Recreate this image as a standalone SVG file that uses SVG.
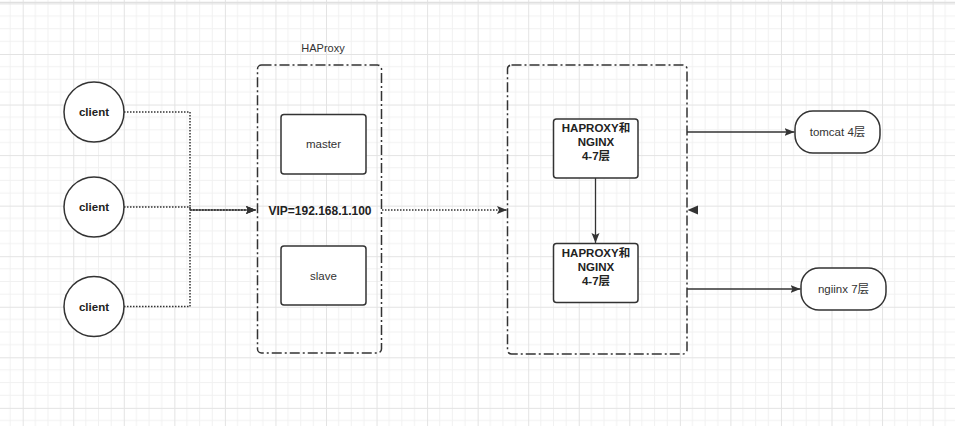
<svg xmlns="http://www.w3.org/2000/svg" width="955" height="426" viewBox="0 0 955 426">
<defs>
<pattern id="grid" patternUnits="userSpaceOnUse" x="22.7" y="3.45" width="50.55" height="50.55">
<path d="M12.64 0V50.55M25.28 0V50.55M37.91 0V50.55M0 12.64H50.55M0 25.28H50.55M0 37.91H50.55" stroke="#f1f1f1" stroke-width="1" fill="none"/>
<path d="M0.5 0V50.55M0 0.5H50.55" stroke="#e3e3e3" stroke-width="1" fill="none"/>
</pattern>
<marker id="arr" markerUnits="userSpaceOnUse" markerWidth="11" markerHeight="9" refX="10" refY="4" orient="auto">
<path d="M0,0 L10,4 L0,8 L2,4 Z" fill="#333"/>
</marker>
<style>
.box{fill:#fff;stroke:#333;stroke-width:1.5}
.grp{fill:none;stroke:#333;stroke-width:1.5;stroke-dasharray:10 3 2 3}
.dot{fill:none;stroke:#333;stroke-width:1.5;stroke-dasharray:1.5 1.5}
.ln{fill:none;stroke:#333;stroke-width:1.3}
text{font-family:"Liberation Sans","Noto Sans CJK SC",Arial,sans-serif;font-size:11px;fill:#333;text-anchor:middle}
.b{font-weight:bold;fill:#222}
.t{font-size:11.5px}
</style>
</defs>
<rect width="955" height="426" fill="#fff"/>
<rect width="955" height="426" fill="url(#grid)"/>
<line x1="0" y1="2.5" x2="955" y2="2.5" stroke="#e0e0e0" stroke-width="1.5"/>

<g id="haproxy-group">
<rect class="grp" x="257.5" y="65" width="124" height="288" rx="4"/>
<text x="323" y="52">HAProxy</text>
<text class="b" x="320" y="214.5" style="font-size:12px">VIP=192.168.1.100</text>
</g>
<g id="master"><rect class="box" x="281" y="114.5" width="85" height="59.5" rx="3"/><text class="t" x="323.5" y="148">master</text></g>
<g id="slave"><rect class="box" x="281" y="246" width="85" height="59" rx="3"/><text class="t" x="323.5" y="279.5">slave</text></g>

<g id="lb-group"><rect class="grp" x="507.5" y="65" width="179.5" height="289" rx="4"/></g>
<g id="lb1"><rect class="box" x="553.5" y="119" width="84.5" height="59" rx="3"/>
<text class="b t" x="596" y="132">HAPROXY和</text><text class="b t" x="596" y="146">NGINX</text><text class="b t" x="596" y="160">4-7层</text></g>
<g id="lb2"><rect class="box" x="553.5" y="243.5" width="84.5" height="59" rx="3"/>
<text class="b t" x="596" y="256.5">HAPROXY和</text><text class="b t" x="596" y="270.5">NGINX</text><text class="b t" x="596" y="284.5">4-7层</text></g>

<g id="client1"><circle class="box" cx="94" cy="112" r="30"/><text class="b t" x="94" y="116">client</text></g>
<g id="client2"><circle class="box" cx="94" cy="207" r="30"/><text class="b t" x="94" y="211">client</text></g>
<g id="client3"><circle class="box" cx="94" cy="306.5" r="30"/><text class="b t" x="94" y="310.5">client</text></g>

<g id="tomcat"><rect class="box" x="795" y="111" width="85" height="42" rx="18"/><text class="t" x="837.5" y="136">tomcat 4层</text></g>
<g id="nginx"><rect class="box" x="801" y="268" width="85" height="42" rx="18"/><text class="t" x="843.5" y="293">ngiinx 7层</text></g>

<g id="connectors">
<path class="dot" d="M124,112 H190 V210 H256" marker-end="url(#arr)"/>
<path class="dot" d="M124,207 H190 V210 H256" marker-end="url(#arr)"/>
<path class="dot" d="M124,306.5 H190 V210 H256" marker-end="url(#arr)"/>
<path class="dot" d="M382,210 H507" marker-end="url(#arr)"/>
<path class="ln" d="M595.5,178 V243" marker-end="url(#arr)"/>
<path class="ln" d="M687,132 H794.5" marker-end="url(#arr)"/>
<path class="ln" d="M687,289 H800.5" marker-end="url(#arr)"/>
<path d="M687.5,210 L698,205.5 L698,214.5 Z" fill="#333"/>
</g>
</svg>
